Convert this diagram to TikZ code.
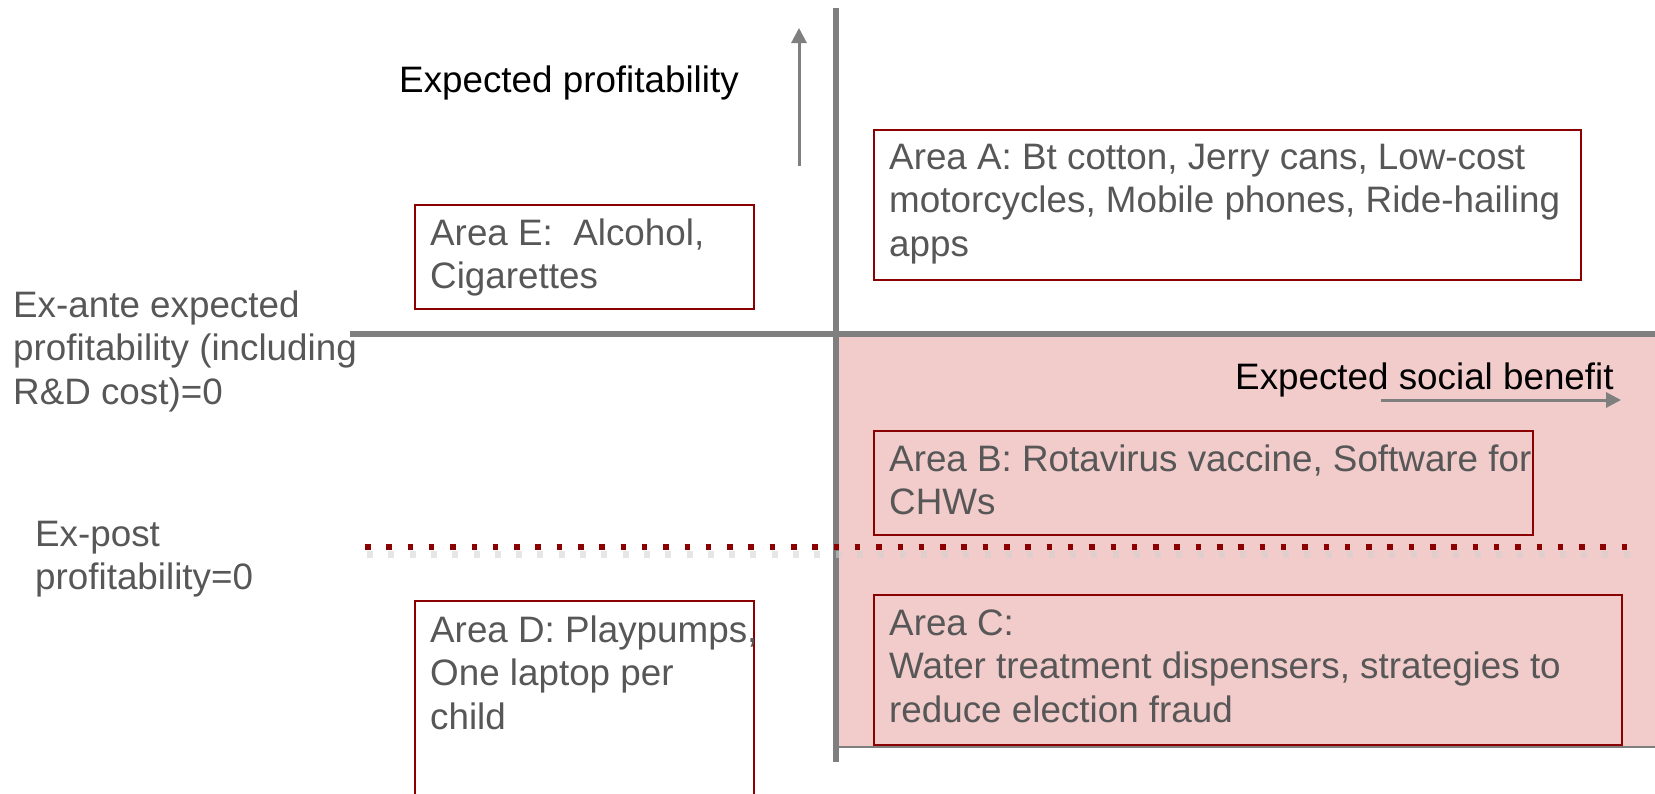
\documentclass[tikz,border=0pt]{standalone}
\usepackage{fontspec}
\setmainfont{Liberation Sans}
\usetikzlibrary{arrows.meta}
\definecolor{axisgray}{HTML}{7F7F7F}
\definecolor{txtgray}{HTML}{575757}
\definecolor{boxred}{HTML}{8B0000}
\definecolor{pinkfill}{HTML}{F2CBCB}
\tikzset{
  areabox/.style={draw=boxred, line width=1.8pt, inner sep=0pt, anchor=north west},
  areatext/.style={anchor=north west, align=left, inner sep=0pt, text=txtgray,
    font=\fontsize{36.8}{43.5}\selectfont},
  axislabel/.style={anchor=base west, inner sep=0pt, text=black,
    font=\fontsize{36.8}{43.5}\selectfont},
  mainaxis/.style={draw=axisgray, line width=6pt},
  dirarrow/.style={draw=axisgray, line width=3pt, -{Triangle[length=15pt,width=15pt]}},
  dotline/.style={draw=boxred, line width=5.5pt, dash pattern=on 5.5pt off 15.8pt},
  dotshadow/.style={draw=gray!35, line width=7pt, dash pattern=on 6pt off 15.3pt, opacity=0.55}
}
\newcommand{\firstline}{\rule{0pt}{32pt}}
\begin{document}
\begin{tikzpicture}[x=1pt,y=-1pt]
\useasboundingbox (0,0) rectangle (1655,793);
\clip (0,0) rectangle (1655,793);
% pink quadrant
\fill[pinkfill] (836,333) rectangle (1655,747);
\draw[axisgray, line width=1.5pt] (836,747) -- (1655,747);
% axes
\coordinate (vtop) at (836,8);
\coordinate (vbot) at (836,762);
\coordinate (hleft) at (350,333.5);
\coordinate (hright) at (1655,333.5);
\draw[mainaxis] (vtop) -- (vbot);
\draw[mainaxis] (hleft) -- (hright);
% direction arrows
\coordinate (upS) at (799,166);
\coordinate (upE) at (799,28);
\draw[dirarrow] (upS) -- (upE);
\coordinate (rtS) at (1381,400);
\coordinate (rtE) at (1621,400);
\draw[dirarrow] (rtS) -- (rtE);
% dotted ex-post line
\coordinate (dlL) at (365,547);
\coordinate (dlR) at (1631,547);
\coordinate (dsL) at (367,554);
\coordinate (dsR) at (1633,554);
\draw[dotshadow] (dsL) -- (dsR);
\draw[dotline] (dlL) -- (dlR);
% area boxes
\node[areabox, minimum width=707pt, minimum height=150pt] (boxA) at (873,129) {};
\node[areabox, minimum width=339pt, minimum height=104pt] (boxE) at (414,204) {};
\node[areabox, minimum width=659pt, minimum height=104pt] (boxB) at (873,430) {};
\node[areabox, minimum width=748pt, minimum height=150pt] (boxC) at (873,594) {};
\node[areabox, minimum width=339pt, minimum height=230pt] (boxD) at (414,600) {};
% area texts
\node[areatext] (tA) at (889,137) {\firstline Area A: Bt cotton, Jerry cans, Low-cost\\motorcycles, Mobile phones, Ride-hailing\\apps};
\node[areatext] (tE) at (430,213) {\firstline Area E:\ \ Alcohol,\\Cigarettes};
\node[areatext] (tB) at (889,439) {\firstline Area B: Rotavirus vaccine, Software for\\CHWs};
\node[areatext] (tC) at (889,603) {\firstline Area C:\\Water treatment dispensers, strategies to\\reduce election fraud};
\node[areatext] (tD) at (430,610) {\firstline Area D: Playpumps,\\One laptop per\\child};
% side labels
\node[areatext] (exante) at (13,285) {\firstline Ex-ante expected\\profitability (including\\R\&D cost)=0};
\node[areatext] (expost) at (35,514) {\firstline Ex-post\\profitability=0};
% axis labels
\node[axislabel] (ylab) at (399,92) {Expected profitability};
\node[axislabel] (xlab) at (1235,389) {Expected social benefit};
\end{tikzpicture}
\end{document}
